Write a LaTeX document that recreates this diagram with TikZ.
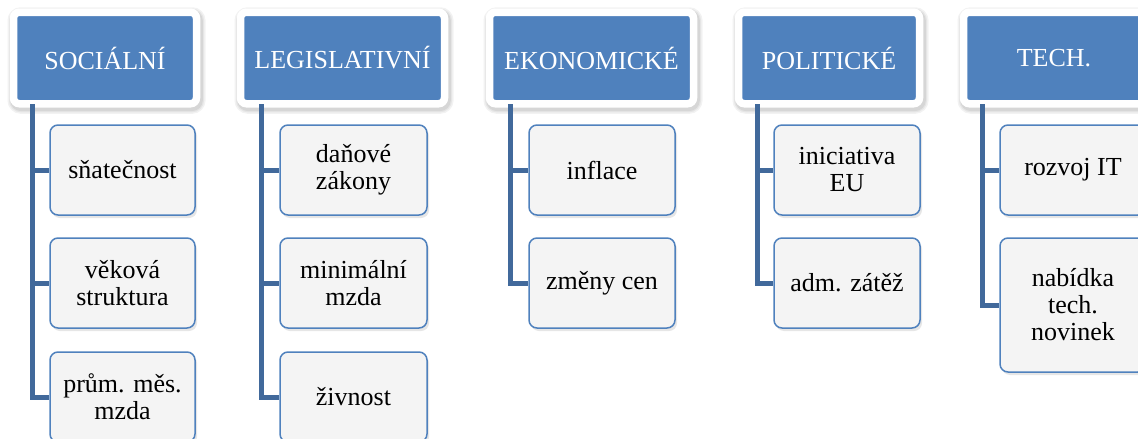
\documentclass[tikz,border=0pt]{standalone}
\usepackage{fontspec}
\setmainfont{Liberation Serif}
\usetikzlibrary{positioning,shadows}
\definecolor{hdrblue}{HTML}{4F81BD}
\definecolor{linkblue}{HTML}{41699B}
\definecolor{leafgray}{HTML}{F4F4F4}
\tikzset{
    every picture/.style={line width=0.5pt},
    halo/.style={fill=none,draw=black!#1,transform canvas={xshift=1.5pt,yshift=-2.5pt}},
    header/.style={rectangle,rounded corners=6pt,fill=hdrblue,draw=white,line width=7.5pt,
        text=white,inner sep=0pt,minimum height=91.5pt,
        font=\fontsize{26}{27}\selectfont,
        preaction={halo=5,line width=15pt},
        preaction={halo=10,line width=12pt},
        preaction={halo=16,line width=9.5pt}},
    leaf/.style={rectangle,rounded corners=8pt,fill=leafgray,draw=hdrblue,line width=1.5pt,
        text=black,inner sep=0pt,minimum height=90pt,align=center,
        font=\fontsize{26}{27}\selectfont,
        drop shadow={shadow xshift=2pt,shadow yshift=-3pt,opacity=0.2}},
    link/.style={draw=linkblue,line width=5pt}
}
\begin{document}
\begin{tikzpicture}[x=1pt,y=-1pt]
    \path[use as bounding box,clip] (0,0) rectangle (1138,439);

    % category headers
    \node[header,minimum width=183pt] (soc) at (105,58) {SOCIÁLNÍ};
    \node[header,minimum width=204pt] (leg) at (342.5,58) {LEGISLATIVNÍ};
    \node[header,minimum width=204pt] (eko) at (591.5,58) {EKONOMICKÉ};
    \node[header,minimum width=181pt] (pol) at (829,58) {POLITICKÉ};
    \node[header,minimum width=181pt] (tech) at (1054,58) {TECH.};

    % spine tops
    \coordinate (socTop) at (32,104);
    \coordinate (legTop) at (261,104);
    \coordinate (ekoTop) at (510,104);
    \coordinate (polTop) at (757,104);
    \coordinate (techTop) at (982,104);

    % leaves
    \node[leaf,minimum width=145pt] (soc1) at (122.5,170) {sňatečnost};
    \node[leaf,minimum width=145pt] (soc2) at (122.5,283) {věková\\struktura};
    \node[leaf,minimum width=145pt] (soc3) at (122.5,397) {prům. měs.\\mzda};

    \node[leaf,minimum width=147pt] (leg1) at (353.5,170) {daňové\\zákony};
    \node[leaf,minimum width=147pt] (leg2) at (353.5,283) {minimální\\mzda};
    \node[leaf,minimum width=147pt] (leg3) at (353.5,397) {živnost};

    \node[leaf,minimum width=146pt] (eko1) at (602,170) {inflace};
    \node[leaf,minimum width=146pt] (eko2) at (602,283) {změny cen};

    \node[leaf,minimum width=146pt] (pol1) at (847,170) {iniciativa\\EU};
    \node[leaf,minimum width=146pt] (pol2) at (847,283) {adm. zátěž};

    \node[leaf,minimum width=146pt] (tech1) at (1073,170) {rozvoj IT};
    \node[leaf,minimum width=146pt,minimum height=134pt] (tech2) at (1073,305) {nabídka\\tech.\\novinek};

    % connectors
    \draw[link] (socTop) |- (soc1.west);
    \draw[link] (socTop) |- (soc2.west);
    \draw[link] (socTop) |- (soc3.west);
    \draw[link] (legTop) |- (leg1.west);
    \draw[link] (legTop) |- (leg2.west);
    \draw[link] (legTop) |- (leg3.west);
    \draw[link] (ekoTop) |- (eko1.west);
    \draw[link] (ekoTop) |- (eko2.west);
    \draw[link] (polTop) |- (pol1.west);
    \draw[link] (polTop) |- (pol2.west);
    \draw[link] (techTop) |- (tech1.west);
    \draw[link] (techTop) |- (tech2.west);
\end{tikzpicture}
\end{document}
